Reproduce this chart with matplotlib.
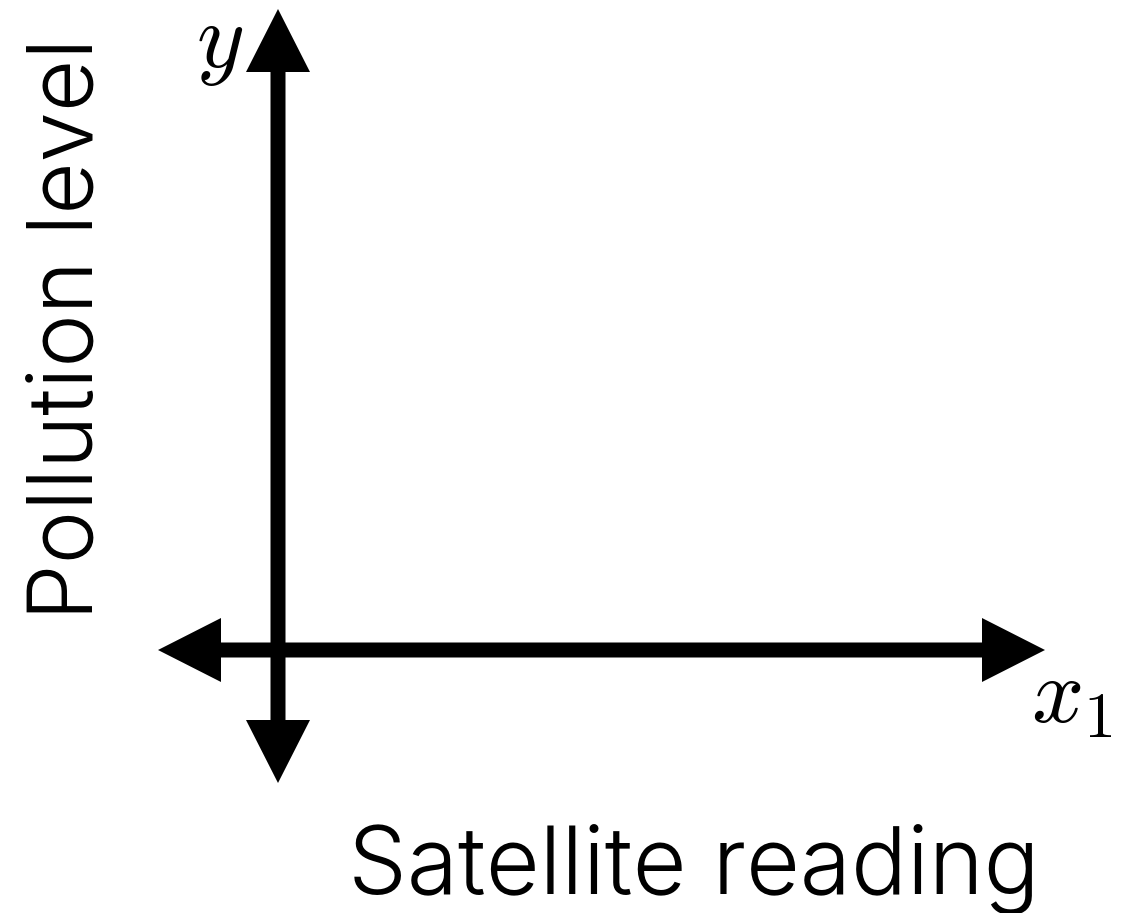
import matplotlib
matplotlib.use("Agg")
import matplotlib.pyplot as plt
from matplotlib.patches import FancyArrow

plt.rcParams['mathtext.fontset'] = 'cm'

W, H = 1121, 913
# axis geometry (pixel space of the canvas)
origin = (278, 650)
x_axis_span = [158, 1045]
y_axis_span = [783, 9]
x_label = "Satellite reading"
y_label = "Pollution level"
x_sym = r"$x_1$"
y_sym = r"$y$"

fig = plt.figure(figsize=(W / 100, H / 100), dpi=100)
ax = fig.add_axes([0, 0, 1, 1])
ax.set_xlim(0, W)
ax.set_ylim(H, 0)
ax.axis('off')

shaft = 15
hw = 64
hl = 63

def arrow(x0, y0, x1, y1):
    a = FancyArrow(x0, y0, x1 - x0, y1 - y0, width=shaft, head_width=hw,
                   head_length=hl, length_includes_head=True, color='black', lw=0)
    ax.add_patch(a)

ox, oy = origin
arrow(ox, oy, x_axis_span[0], oy)
arrow(ox, oy, x_axis_span[1], oy)
arrow(ox, oy, ox, y_axis_span[0])
arrow(ox, oy, ox, y_axis_span[1])

ax.text(220, 43, y_sym, fontsize=66, ha='center', va='center')
ax.text(1072, 696, x_sym, fontsize=66, ha='center', va='center')

ax.text(694, 894, x_label, fontsize=67, ha='center', va='baseline',
        family='Inter', fontweight=300)
ax.text(93, 329, y_label, fontsize=65, ha='center', va='baseline', rotation=90,
        family='Inter', fontweight=300, rotation_mode='anchor')

fig.savefig("out.png", dpi=100)
